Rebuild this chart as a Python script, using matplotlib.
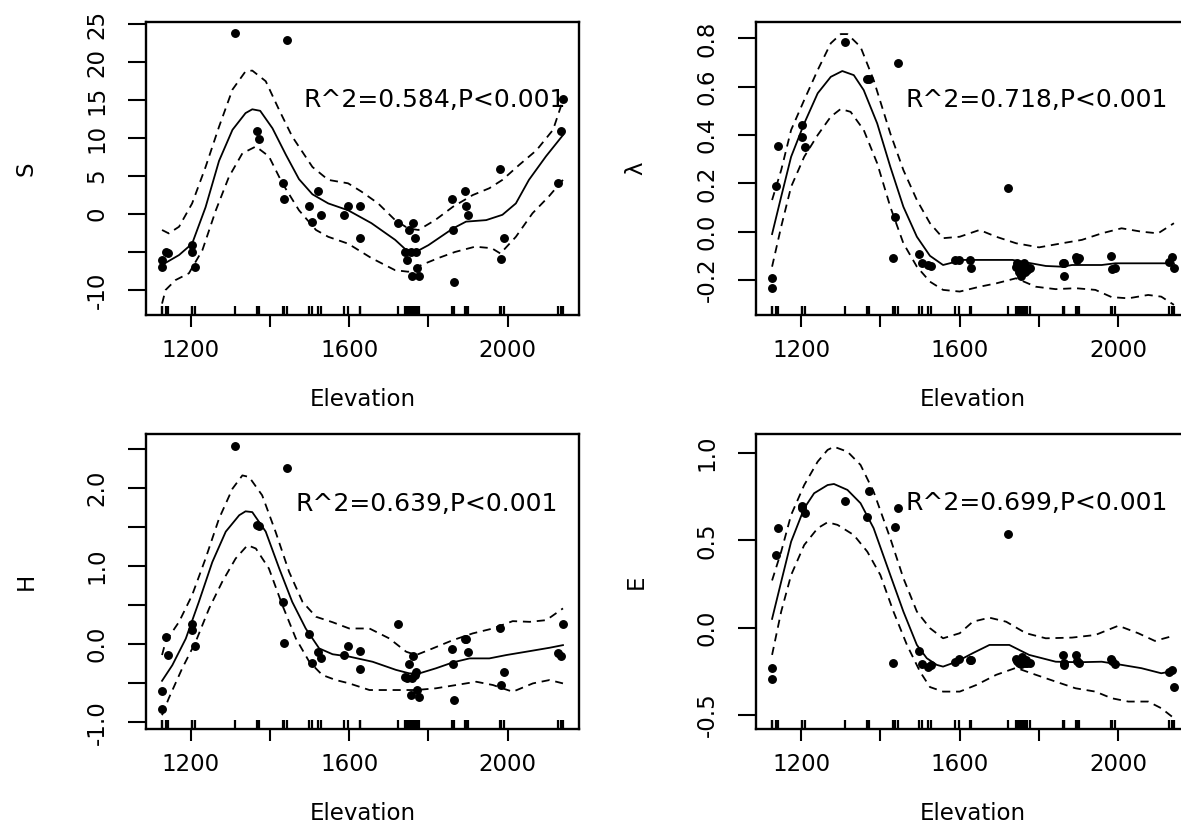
import matplotlib
matplotlib.use("Agg")
import matplotlib.pyplot as plt
import numpy as np

plt.rcParams['font.family'] = ['DejaVu Sans']

# ---------------- data ----------------
elevation = [1127, 1127, 1137, 1143,
             1203, 1203, 1210,
             1312,
             1366, 1372,
             1432, 1436, 1444,
             1498, 1505, 1520, 1528,
             1588, 1598, 1626, 1628,
             1722, 1742, 1745, 1750, 1755, 1758, 1762, 1765, 1768, 1770, 1777,
             1860, 1862, 1864, 1893, 1896, 1900,
             1982, 1984, 1992,
             2128, 2134, 2140]

S_resid = [-6.07, -7.0, -5.05, -5.1,
           -4.05, -5.05, -7.0,
           23.9,
           10.95, 9.9,
           4.05, 2.0, 22.95,
           1.05, -1.05, 3.0, -0.1,
           -0.1, 1.05, 1.05, -3.1,
           -1.15, -5.05, -6.07, -2.1, -5.05, -8.1, -1.15, -3.1, -5.05, -7.08, -8.1,
           2.0, -2.1, -9.0, 3.0, 1.05, -0.1,
           5.98, -5.98, -3.1,
           4.05, 10.95, 15.1]

lam_resid = [-0.19, -0.234, 0.19, 0.355,
             0.39, 0.44, 0.352,
             0.786,
             0.632, 0.632,
             -0.11, 0.062, 0.70,
             -0.092, -0.13, -0.14, -0.142,
             -0.116, -0.116, -0.116, -0.149,
             0.18, -0.145, -0.13, -0.166, -0.182, -0.145, -0.131, -0.166, -0.145, -0.16, -0.15,
             -0.128, -0.182, -0.13, -0.103, -0.117, -0.11,
             -0.099, -0.156, -0.151,
             -0.126, -0.106, -0.151]

H_resid = [-0.597, -0.83, 0.09, -0.14,
           0.256, 0.183, -0.026,
           2.536,
           1.53, 1.51,
           0.54, 0.009, 2.255,
           0.124, -0.24, -0.106, -0.175,
           -0.14, -0.026, -0.085, -0.315,
           0.256, -0.42, -0.44, -0.256, -0.652, -0.43, -0.157, -0.40, -0.354, -0.588, -0.674,
           -0.064, -0.256, -0.716, 0.06, 0.06, -0.106,
           0.205, -0.524, -0.354,
           -0.12, -0.153, 0.256]

E_resid = [-0.232, -0.294, 0.416, 0.572,
           0.698, 0.683, 0.654,
           0.725,
           0.632, 0.784,
           -0.2, 0.578, 0.683,
           -0.131, -0.21, -0.225, -0.213,
           -0.198, -0.179, -0.187, -0.187,
           0.536, -0.18, -0.19, -0.2, -0.21, -0.17, -0.19, -0.2, -0.185, -0.205, -0.2,
           -0.156, -0.213, -0.2, -0.156, -0.19, -0.2,
           -0.179, -0.19, -0.21,
           -0.255, -0.242, -0.337]

# smooth fits and +-2SE bands
S_fit_x = [1127, 1170, 1203, 1237, 1271, 1305, 1338, 1355, 1375, 1406, 1440, 1473, 1507, 1547,
           1597, 1656, 1716, 1741, 1768, 1800, 1862, 1895, 1946, 1987, 2021, 2054, 2097, 2140]
S_fit = [-6.7, -5.4, -3.9, 0.9, 7.0, 11.1, 13.3, 13.8, 13.6, 11.3, 7.8, 4.6, 2.6, 1.4,
         0.5, -1.2, -3.4, -4.6, -5.0, -4.1, -1.9, -1.0, -0.8, -0.1, 1.4, 4.5, 7.6, 10.4]
S_up_x = [1127, 1144, 1170, 1203, 1237, 1271, 1305, 1338, 1355, 1389, 1423, 1456, 1507, 1547,
          1597, 1631, 1673, 1716, 1749, 1775, 1817, 1862, 1912, 1954, 1987, 2030, 2073, 2115, 2140]
S_up = [-2.1, -2.55, -1.67, 1.4, 6.2, 11.5, 16.4, 18.8, 18.9, 17.5, 13.7, 10.2, 6.2, 4.5,
        4.05, 2.95, 1.4, -0.8, -1.9, -2.1, -0.8, 0.96, 2.5, 3.4, 4.5, 6.5, 8.4, 11.1, 15.0]
S_lo_x = [1127, 1136, 1161, 1195, 1229, 1263, 1296, 1330, 1364, 1397, 1431, 1473, 1516, 1547,
          1597, 1656, 1716, 1749, 1783, 1825, 1867, 1918, 1960, 1982, 2021, 2063, 2104, 2140]
S_lo = [-11.8, -10.0, -8.7, -7.8, -4.75, 0.5, 4.9, 8.0, 8.9, 7.6, 4.05, 0.5, -2.1, -3.0,
        -3.9, -5.8, -7.4, -7.6, -6.7, -5.8, -5.0, -4.3, -4.5, -5.2, -3.0, 0.1, 2.3, 4.5]

lam_fit_x = [1127, 1150, 1175, 1208, 1242, 1275, 1304, 1333, 1358, 1392, 1425, 1458, 1492,
             1525, 1558, 1608, 1733, 1817, 1858, 1883, 1958, 1992, 2140]
lam_fit = [-0.01, 0.145, 0.31, 0.448, 0.573, 0.641, 0.665, 0.648, 0.586, 0.448, 0.269, 0.103,
           -0.021, -0.10, -0.138, -0.117, -0.117, -0.142, -0.145, -0.138, -0.138, -0.131, -0.131]
lam_up_x = [1127, 1150, 1175, 1208, 1242, 1275, 1300, 1317, 1350, 1383, 1425, 1458, 1492, 1525,
            1558, 1600, 1650, 1692, 1742, 1800, 1858, 1908, 1958, 2008, 2058, 2100, 2140]
lam_up = [0.131, 0.255, 0.421, 0.545, 0.669, 0.78, 0.818, 0.818, 0.765, 0.628, 0.407, 0.255,
          0.131, 0.035, -0.027, -0.021, 0.007, -0.021, -0.048, -0.065, -0.048, -0.034, -0.007,
          0.014, 0.0, -0.007, 0.035]
lam_lo_x = [1127, 1150, 1175, 1208, 1242, 1275, 1300, 1325, 1358, 1392, 1425, 1458, 1492, 1525,
            1558, 1600, 1650, 1692, 1742, 1792, 1842, 1892, 1942, 1983, 2025, 2075, 2108, 2140]
lam_lo = [-0.145, 0.021, 0.186, 0.31, 0.40, 0.476, 0.508, 0.496, 0.421, 0.283, 0.103, -0.048,
          -0.145, -0.207, -0.241, -0.248, -0.228, -0.214, -0.193, -0.228, -0.238, -0.234, -0.241,
          -0.271, -0.276, -0.262, -0.269, -0.303]

H_fit_x = [1127, 1153, 1187, 1220, 1254, 1288, 1322, 1338, 1355, 1389, 1423, 1456, 1490, 1524,
           1558, 1600, 1659, 1718, 1752, 1777, 1819, 1862, 1904, 1954, 1997, 2056, 2106, 2140]
H_fit = [-0.47, -0.27, 0.07, 0.54, 1.05, 1.44, 1.65, 1.70, 1.69, 1.44, 0.97, 0.54, 0.2, -0.055,
         -0.13, -0.16, -0.226, -0.33, -0.375, -0.375, -0.31, -0.234, -0.183, -0.183, -0.14,
         -0.09, -0.047, -0.013]
H_up_x = [1127, 1136, 1170, 1203, 1237, 1271, 1305, 1330, 1347, 1380, 1414, 1448, 1482, 1516,
          1558, 1600, 1651, 1701, 1744, 1769, 1811, 1862, 1912, 1963, 2013, 2056, 2098, 2140]
H_up = [-0.14, 0.03, 0.285, 0.627, 1.096, 1.607, 1.99, 2.16, 2.14, 1.905, 1.436, 0.925, 0.54,
        0.35, 0.28, 0.2, 0.2, 0.073, -0.098, -0.14, -0.055, 0.051, 0.137, 0.2, 0.294, 0.285,
        0.307, 0.457]
H_lo_x = [1127, 1144, 1178, 1212, 1246, 1279, 1313, 1343, 1364, 1397, 1431, 1465, 1499, 1532,
          1566, 1600, 1651, 1718, 1769, 1819, 1870, 1921, 1963, 2013, 2064, 2106, 2140]
H_lo = [-0.91, -0.694, -0.31, 0.03, 0.457, 0.797, 1.096, 1.266, 1.224, 0.968, 0.499, 0.073,
        -0.226, -0.396, -0.46, -0.503, -0.588, -0.588, -0.588, -0.566, -0.524, -0.482, -0.524,
        -0.61, -0.503, -0.46, -0.503]

E_fit_x = [1127, 1150, 1175, 1208, 1233, 1267, 1283, 1317, 1350, 1383, 1425, 1458, 1492, 1517,
           1542, 1558, 1592, 1633, 1675, 1725, 1775, 1842, 1900, 1958, 2008, 2058, 2108, 2140]
E_fit = [0.05, 0.263, 0.492, 0.683, 0.769, 0.816, 0.822, 0.788, 0.712, 0.569, 0.301, 0.092,
         -0.099, -0.175, -0.213, -0.223, -0.195, -0.146, -0.099, -0.099, -0.156, -0.195, -0.198,
         -0.195, -0.213, -0.232, -0.261, -0.248]
E_up_x = [1127, 1150, 1175, 1208, 1242, 1267, 1283, 1317, 1350, 1383, 1425, 1458, 1492, 1525,
          1558, 1600, 1633, 1675, 1717, 1767, 1817, 1883, 1942, 2000, 2050, 2092, 2140]
E_up = [0.27, 0.435, 0.645, 0.816, 0.95, 1.017, 1.035, 1.007, 0.931, 0.778, 0.511, 0.283, 0.092,
        -0.003, -0.061, -0.032, 0.034, 0.057, 0.034, -0.032, -0.061, -0.057, -0.042, 0.011,
        -0.032, -0.076, -0.046]
E_lo_x = [1127, 1150, 1175, 1208, 1242, 1267, 1292, 1333, 1367, 1400, 1433, 1467, 1500, 1525,
          1558, 1600, 1642, 1692, 1742, 1792, 1842, 1892, 1942, 1983, 2025, 2075, 2108, 2140]
E_lo = [-0.156, 0.092, 0.301, 0.473, 0.569, 0.603, 0.588, 0.53, 0.435, 0.301, 0.092, -0.099,
        -0.252, -0.34, -0.366, -0.366, -0.328, -0.27, -0.23, -0.27, -0.309, -0.347, -0.366,
        -0.404, -0.423, -0.423, -0.461, -0.518]

y_labels = ["S", "\u03bb", "H", "E"]
r2_values = ["0.584", "0.718", "0.639", "0.699"]
ann_x = [1816, 1795, 1796, 1795]
ann_y = [15.0, 0.545, 1.80, 0.713]

x_ticks = [1200, 1400, 1600, 1800, 2000]
x_ticklabels = ["1200", "", "1600", "", "2000"]
y_ticks = [[-10, -5, 0, 5, 10, 15, 20, 25],
           [-0.2, 0.0, 0.2, 0.4, 0.6, 0.8],
           [-1.0, -0.5, 0.0, 0.5, 1.0, 1.5, 2.0, 2.5],
           [-0.5, 0.0, 0.5, 1.0]]
y_ticklabels = [["-10", "", "0", "5", "10", "15", "20", "25"],
                ["-0.2", "0.0", "0.2", "0.4", "0.6", "0.8"],
                ["-1.0", "", "0.0", "", "1.0", "", "2.0", ""],
                ["-0.5", "0.0", "0.5", "1.0"]]
y_limits = [(-13.3, 25.3), (-0.345, 0.868), (-1.087, 2.69), (-0.58, 1.108)]

resids = [S_resid, lam_resid, H_resid, E_resid]
fits = [(S_fit_x, S_fit), (lam_fit_x, lam_fit), (H_fit_x, H_fit), (E_fit_x, E_fit)]
ups = [(S_up_x, S_up), (lam_up_x, lam_up), (H_up_x, H_up), (E_up_x, E_up)]
los = [(S_lo_x, S_lo), (lam_lo_x, lam_lo), (H_lo_x, H_lo), (E_lo_x, E_lo)]

# ---------------- layout ----------------
W, H = 1181, 823
fig = plt.figure(figsize=(W / 100, H / 100), dpi=100)
fig.patch.set_facecolor("white")

boxes = [(146, 22, 433, 293), (756, 22, 434, 293),
         (146, 434, 433, 295), (756, 434, 434, 295)]

erange = max(elevation) - min(elevation)
xlim = (min(elevation) - 0.04 * erange, max(elevation) + 0.04 * erange)

for i, (l, t, w, h) in enumerate(boxes):
    ax = fig.add_axes([l / W, (H - t - h) / H, w / W, h / H])
    ax.set_xlim(*xlim)
    ax.set_ylim(*y_limits[i])

    ax.plot(fits[i][0], fits[i][1], color="black", lw=1.3)
    for cx, cy in (ups[i], los[i]):
        ax.plot(cx, cy, color="black", lw=1.3, dashes=(4.5, 3.2))
    ax.plot(elevation, resids[i], "o", color="black", ms=5.4, mec="black")
    ax.vlines(elevation, 0, 0.03, transform=ax.get_xaxis_transform(),
              color="black", lw=1.6)

    ax.text(ann_x[i], ann_y[i], "R^2=%s,P<0.001" % r2_values[i], ha="center",
            va="center", fontsize=18, color="black")

    for sp in ax.spines.values():
        sp.set_linewidth(1.7)
        sp.set_color("black")

    ax.set_xticks(x_ticks)
    ax.set_xticklabels(x_ticklabels)
    ax.set_yticks(y_ticks[i])
    ax.set_yticklabels(y_ticklabels[i], rotation=90, va="center")
    ax.tick_params(axis="x", direction="out", length=8.5, width=1.5, pad=9,
                   labelsize=16.5, colors="black")
    ax.tick_params(axis="y", direction="out", length=13, width=1.5, pad=14,
                   labelsize=16.5, colors="black")

    ax.set_xlabel("Elevation", fontsize=16.5)
    ax.xaxis.set_label_coords(0.5, -84 / h)
    ax.xaxis.label.set_va("center")
    ax.set_ylabel(y_labels[i], fontsize=16.5)
    ax.yaxis.set_label_coords(-120 / w, 0.5)
    ax.yaxis.label.set_va("center")

fig.savefig("out.png", dpi=100, facecolor="white")
